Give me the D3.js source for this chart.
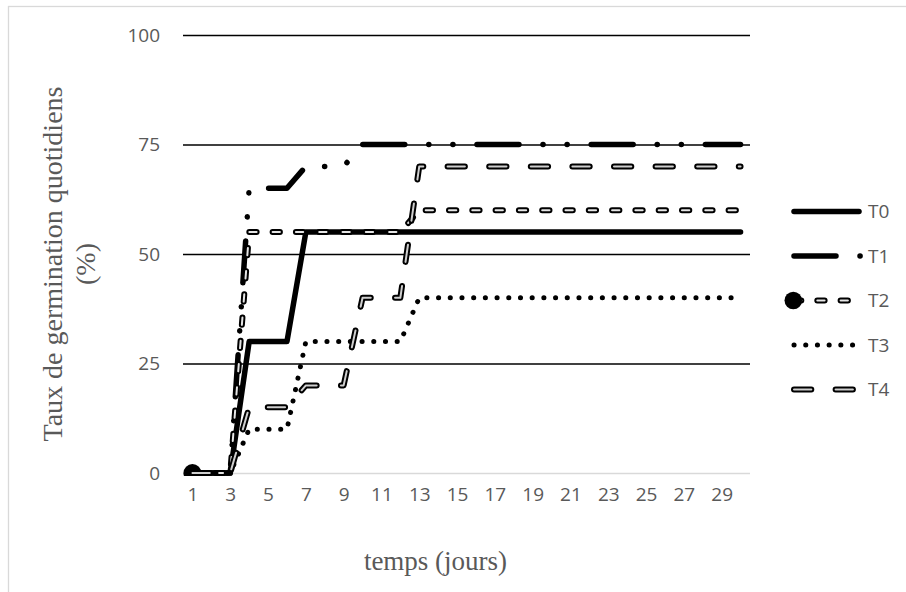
<!DOCTYPE html>
<html>
<head>
<meta charset="utf-8">
<script src="https://cdn.jsdelivr.net/npm/d3@7"></script>
<style>
  html, body { margin: 0; padding: 0; background: #fff; }
  svg { display: block; }
</style>
</head>
<body>
<svg id="chart" width="906" height="592"></svg>
<script>
// ---- data ----
const days = d3.range(1, 31);
const dayTickLabels = [1, 3, 5, 7, 9, 11, 13, 15, 17, 19, 21, 23, 25, 27, 29];
const yTickValues = [0, 25, 50, 75, 100];
const seriesNames = ["T0", "T1", "T2", "T3", "T4"];
const T0 = [0,0,0,30,30,30,55,55,55,55,55,55,55,55,55,55,55,55,55,55,55,55,55,55,55,55,55,55,55,55];
const T1 = [0,0,0,65,65,65,70,70,70,75,75,75,75,75,75,75,75,75,75,75,75,75,75,75,75,75,75,75,75,75];
const T2 = [0,0,0,55,55,55,55,55,55,55,55,55,60,60,60,60,60,60,60,60,60,60,60,60,60,60,60,60,60,60];
const T3 = [0,0,0,10,10,10,30,30,30,30,30,30,40,40,40,40,40,40,40,40,40,40,40,40,40,40,40,40,40,40];
const T4 = [0,0,0,15,15,15,20,20,20,40,40,40,70,70,70,70,70,70,70,70,70,70,70,70,70,70,70,70,70,70];
const seriesValues = [T0, T1, T2, T3, T4];
const yTitleLines = ["Taux de germination quotidiens", "(%)"];
const xTitle = "temps (jours)";

// ---- styles ----
const styles = {
  T0: {layers: [{stroke: "#000", width: 5.5, dash: null}]},
  T1: {layers: [{stroke: "#000", width: 5.5, dash: "42,24,0.1,24,0.1,24"}]},
  T2: {layers: [{stroke: "#000", width: 6, dash: "7.3,16"}, {stroke: "#e6e6e6", width: 2, dash: "7.3,16"}], marker: true},
  T3: {layers: [{stroke: "#000", width: 5, dash: "0.1,11.6"}]},
  T4: {layers: [{stroke: "#000", width: 6, dash: "17.3,24.3"}, {stroke: "#cfcfcf", width: 2, dash: "17.3,24.3"}]}
};
const textColor = "#595959";
const tickFont = "'Open Sans', sans-serif";
const serifFont = "'Liberation Serif', 'Times New Roman', serif";

const svg = d3.select("#chart");
const pLeft = 183, pRight = 750, pTop = 35, pBottom = 473;

// outer border
svg.append("rect").attr("x", 8.5).attr("y", 6.5).attr("width", 1000).attr("height", 1000)
  .attr("fill", "none").attr("stroke", "#d9d9d9").attr("stroke-width", 1.3);

const x = d3.scalePoint().domain(days).range([pLeft, pRight]).padding(0.5);
const y = d3.scaleLinear().domain([0, 100]).range([pBottom, pTop]);

// y axis with gridlines
const yAxis = svg.append("g").attr("transform", `translate(${pLeft},0)`)
  .call(d3.axisLeft(y).tickValues(yTickValues).tickSize(-(pRight - pLeft)).tickPadding(23));
yAxis.select(".domain").remove();
yAxis.selectAll(".tick line")
  .attr("stroke", d => d === 0 ? "#d9d9d9" : "#000")
  .attr("stroke-width", d => d === 0 ? 1.6 : 1.5);
yAxis.selectAll(".tick text")
  .attr("fill", textColor).style("font-family", tickFont).style("font-size", "19px");

// x axis
const xAxis = svg.append("g").attr("transform", `translate(0,${pBottom})`)
  .call(d3.axisBottom(x).tickValues(dayTickLabels).tickSize(0).tickPadding(15));
xAxis.select(".domain").remove();
xAxis.selectAll(".tick text")
  .attr("fill", textColor).style("font-family", tickFont).style("font-size", "19px");

// clip for markers
svg.append("clipPath").attr("id", "plotclip")
  .append("rect").attr("x", pLeft - 12).attr("y", pTop - 10).attr("width", pRight - pLeft + 24).attr("height", pBottom - pTop + 13);

const line = d3.line().x((d, i) => x(days[i])).y(d => y(d));

const plot = svg.append("g");
seriesNames.forEach((name, si) => {
  const st = styles[name];
  st.layers.forEach(L => {
    plot.append("path").datum(seriesValues[si])
      .attr("d", line)
      .attr("fill", "none")
      .attr("stroke", L.stroke)
      .attr("stroke-width", L.width)
      .attr("stroke-linecap", "round")
      .attr("stroke-linejoin", "round")
      .attr("stroke-dasharray", L.dash);
  });
  if (st.marker) {
    plot.append("circle").attr("clip-path", "url(#plotclip)")
      .attr("cx", x(days[0])).attr("cy", y(seriesValues[si][0])).attr("r", 9)
      .attr("fill", "#000");
  }
});

// legend
const legY0 = 211.5, legStep = 44.5;
seriesNames.forEach((name, si) => {
  const st = styles[name];
  const g = svg.append("g").attr("transform", `translate(0,${legY0 + si * legStep})`);
  st.layers.forEach(L => {
    g.append("path").attr("d", name === "T0" ? "M794,0L859,0" : "M794,0L861,0")
      .attr("fill", "none")
      .attr("stroke", L.stroke)
      .attr("stroke-width", L.width)
      .attr("stroke-linecap", "round")
      .attr("stroke-dasharray", L.dash);
  });
  if (st.marker) {
    g.append("circle").attr("cx", 793.3).attr("cy", 0).attr("r", 8.8).attr("fill", "#000");
  }
  g.append("text").attr("x", 868).attr("y", 0).attr("dy", "0.35em")
    .attr("fill", textColor).style("font-family", tickFont).style("font-size", "19px")
    .text(name);
});

// axis titles
const yt = svg.append("text")
  .attr("transform", "translate(62,264) rotate(-90)")
  .attr("text-anchor", "middle")
  .attr("fill", textColor).style("font-family", serifFont).style("font-size", "28px");
yTitleLines.forEach((t, i) => {
  yt.append("tspan").attr("x", 0).attr("y", i * 33).text(t);
});
svg.append("text")
  .attr("x", 435.5).attr("y", 570)
  .attr("text-anchor", "middle")
  .attr("fill", textColor).style("font-family", serifFont).style("font-size", "27px")
  .text(xTitle);
</script>
</body>
</html>
